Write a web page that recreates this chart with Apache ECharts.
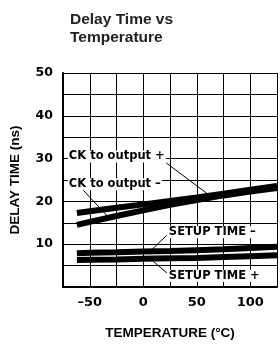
<!DOCTYPE html>
<html>
<head>
<meta charset="utf-8">
<style>
  html, body { margin: 0; padding: 0; background: #fff; }
  #main { width: 280px; height: 345px; }
</style>
<script src="https://cdn.jsdelivr.net/npm/echarts@6/dist/echarts.min.js"></script>
</head>
<body>
<div id="main"></div>
<script>
// temperatures (°C) where the curves were read
var temps = [-62, -50, -25, 0, 25, 50, 75, 100, 125];
// delay time (ns)
var ckPlus = [17.3, 17.7, 18.5, 19.3, 20.1, 20.9, 21.8, 22.7, 23.6];
var ckMinus = [14.5, 15.2, 16.6, 17.9, 19.2, 20.3, 21.4, 22.3, 23.1];
var setupMinus = [7.9, 8.0, 8.1, 8.3, 8.4, 8.6, 8.8, 9.1, 9.4];
var setupPlus = [6.3, 6.35, 6.45, 6.6, 6.7, 6.8, 7.0, 7.2, 7.4];

var xLabelVals = [-50, 0, 50, 100];
var yLabelVals = [10, 20, 30, 40, 50];

// annotations: text anchor and leader line (data coords)
var notes = [
    { text: 'CK to output +', at: [-70.5, 30.5], from: [21.5, 29.0], to: [62, 21.4] },
    { text: 'CK to output –', at: [-70.5, 24.0], from: [-57.5, 23.0], to: [-31, 15.9] },
    { text: 'SETUP TIME –', at: [23, 12.8], from: [22, 12.1], to: [6.6, 8.4] },
    { text: 'SETUP TIME +', at: [23, 2.6], from: [22, 3.3], to: [9.4, 6.0] }
];

function pairs(ys) {
    return temps.map(function (t, i) { return [t, ys[i]]; });
}

var chart = echarts.init(document.getElementById('main'), null, { renderer: 'canvas' });

var bandStyle = { color: '#000', width: 6, cap: 'butt' };

var option = {
    animation: false,
    title: {
        text: 'Delay Time vs\nTemperature',
        left: 65,
        top: 6,
        textStyle: {
            fontFamily: 'Liberation Sans',
            fontWeight: 'bold',
            fontSize: 15.5,
            lineHeight: 18,
            color: '#222'
        }
    },
    grid: { left: 63, top: 73, right: -1, bottom: 57 },
    xAxis: {
        type: 'value',
        min: -75,
        max: 125,
        interval: 25,
        name: 'TEMPERATURE (°C)',
        nameLocation: 'middle',
        nameGap: 39,
        nameTextStyle: { fontFamily: 'Liberation Sans', fontWeight: 'bold', fontSize: 13.5, color: '#000', verticalAlign: 'top' },
        axisLine: { onZero: false, lineStyle: { color: '#000', width: 2 } },
        axisTick: { show: false },
        axisLabel: {
            margin: 9,
            fontFamily: 'DejaVu Sans',
            fontWeight: 'bold',
            fontSize: 13,
            color: '#000',
            formatter: function (v) {
                return xLabelVals.indexOf(v) >= 0 ? String(v).replace('-', '–') : '';
            }
        },
        splitLine: { show: true, lineStyle: { color: '#000', width: 1 } }
    },
    yAxis: {
        type: 'value',
        min: 0,
        max: 50,
        interval: 5,
        name: 'DELAY TIME (ns)',
        nameLocation: 'middle',
        nameGap: 41,
        nameTextStyle: { fontFamily: 'Liberation Sans', fontWeight: 'bold', fontSize: 13.5, color: '#000' },
        axisLine: { show: true, onZero: false, lineStyle: { color: '#000', width: 2 } },
        axisTick: { show: false },
        axisLabel: {
            margin: 10,
            fontFamily: 'DejaVu Sans',
            fontWeight: 'bold',
            fontSize: 12.5,
            color: '#000',
            formatter: function (v) {
                return yLabelVals.indexOf(v) >= 0 ? String(v) : '';
            }
        },
        splitLine: { show: true, lineStyle: { color: '#000', width: 1 } }
    },
    series: [
        { name: 'CK to output +', type: 'line', symbol: 'none', data: pairs(ckPlus), lineStyle: bandStyle },
        { name: 'CK to output –', type: 'line', symbol: 'none', data: pairs(ckMinus), lineStyle: bandStyle },
        { name: 'SETUP TIME –', type: 'line', symbol: 'none', data: pairs(setupMinus), lineStyle: bandStyle },
        { name: 'SETUP TIME +', type: 'line', symbol: 'none', data: pairs(setupPlus), lineStyle: bandStyle },
        {
            // annotation layer
            type: 'line',
            data: [],
            markLine: {
                silent: true,
                symbol: 'none',
                label: { show: false },
                lineStyle: { color: '#000', width: 1, type: 'solid' },
                data: notes.map(function (n) { return [{ coord: n.from }, { coord: n.to }]; })
            },
            markPoint: {
                silent: true,
                symbol: 'circle',
                symbolSize: 0,
                label: {
                    show: true,
                    position: 'right',
                    distance: 0,
                    fontFamily: 'DejaVu Sans',
                    fontWeight: 'bold',
                    fontSize: 11.5,
                    color: '#000',
                    backgroundColor: '#fff',
                    padding: [0, 1, 0, 1],
                    formatter: function (p) { return p.name; }
                },
                data: notes.map(function (n) { return { name: n.text, coord: n.at }; })
            }
        }
    ]
};
chart.setOption(option);
</script>
</body>
</html>
